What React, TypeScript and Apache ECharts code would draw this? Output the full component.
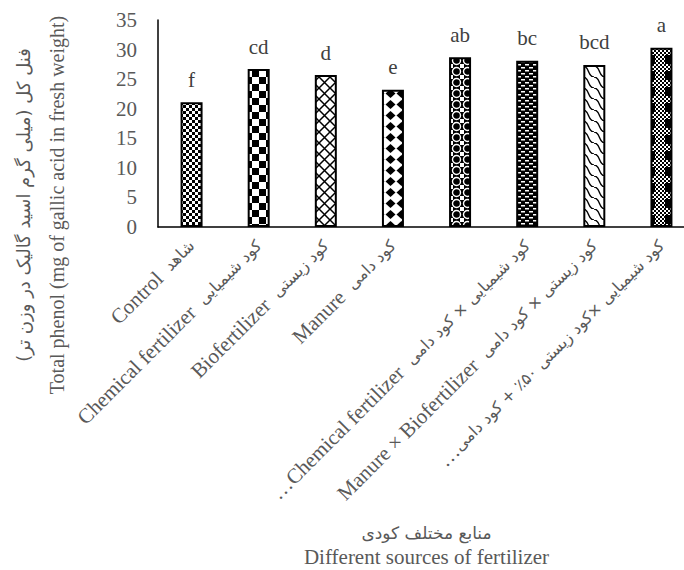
import React, { useEffect, useRef } from "react";
import * as echarts from "echarts";

const categories = [
  "Control  شاهد",
  "Chemical fertilizer  کود شیمیایی",
  "Biofertilizer  کود زیستی",
  "Manure  کود دامی",
  "Chemical fertilizer × Biofertilizer  کود شیمیایی × کود زیستی",
  "…Chemical fertilizer  کود شیمیایی × کود دامی",
  "Manure × Biofertilizer  کود زیستی × کود دامی",
  "…کود شیمیایی ×کود زیستی ۵۰٪ + کود دامی",
];
const hiddenLabelIndex = [4];
const values = [21.1, 26.7, 25.7, 23.2, 28.7, 28.1, 27.4, 30.3];
const letters = ["f", "cd", "d", "e", "ab", "bc", "bcd", "a"];
const yTitleFa = "فنل کل (میلی گرم اسید گالیک در وزن تر)\u200F";
const yTitleEn = "Total phenol (mg of gallic acid in fresh weight)";
const xTitleFa = "منابع مختلف کودی";
const xTitleEn = "Different sources of fertilizer";

type Draw = (ctx: CanvasRenderingContext2D, w: number, h: number) => void;

function makePattern(w: number, h: number, draw: Draw) {
  const c = document.createElement("canvas");
  c.width = w;
  c.height = h;
  const ctx = c.getContext("2d") as CanvasRenderingContext2D;
  ctx.fillStyle = "#fff";
  ctx.fillRect(0, 0, w, h);
  ctx.fillStyle = "#000";
  ctx.strokeStyle = "#000";
  draw(ctx, w, h);
  return {
    image: c.toDataURL(),
    repeat: "repeat",
    imageWidth: w,
    imageHeight: h,
  };
}

function checker(cell: number): Draw {
  return (ctx) => {
    ctx.fillRect(0, 0, cell, cell);
    ctx.fillRect(cell, cell, cell, cell);
  };
}

function buildPatterns() {
  return [
    makePattern(6, 6, checker(3)),
    makePattern(14, 14, checker(7)),
    makePattern(11, 11, (ctx) => {
      ctx.lineWidth = 1.5;
      ctx.beginPath();
      ctx.moveTo(-1, -1);
      ctx.lineTo(12, 12);
      ctx.moveTo(12, -1);
      ctx.lineTo(-1, 12);
      ctx.stroke();
    }),
    makePattern(11, 11, (ctx) => {
      ctx.beginPath();
      ctx.moveTo(5.5, 1);
      ctx.lineTo(10.5, 5.5);
      ctx.lineTo(5.5, 10);
      ctx.lineTo(0.5, 5.5);
      ctx.closePath();
      ctx.fill();
    }),
    makePattern(11, 11, (ctx) => {
      ctx.fillRect(0, 0, 11, 11);
      ctx.fillStyle = "#fff";
      ctx.fillRect(0, 0, 2, 2);
      ctx.fillRect(9, 0, 2, 2);
      ctx.fillRect(0, 9, 2, 2);
      ctx.fillRect(9, 9, 2, 2);
      ctx.strokeStyle = "#fff";
      ctx.lineWidth = 1.4;
      ctx.beginPath();
      ctx.arc(5.5, 5.5, 4, 0, Math.PI * 2);
      ctx.stroke();
    }),
    makePattern(8, 6, (ctx) => {
      ctx.fillRect(0, 0, 8, 6);
      ctx.fillStyle = "#fff";
      ctx.fillRect(1, 1, 4, 1.5);
      ctx.fillRect(5, 4, 3, 1.5);
      ctx.fillRect(0, 4, 1, 1.5);
    }),
    makePattern(11, 11, (ctx) => {
      ctx.lineWidth = 1.4;
      ctx.beginPath();
      ctx.moveTo(0, 0);
      ctx.bezierCurveTo(7, 0, 4, 11, 11, 11);
      ctx.stroke();
    }),
    makePattern(20, 16, (ctx) => {
      for (let y = 0; y < 16; y += 2) {
        for (let x = 0; x < 20; x += 2) {
          if (((x + y) / 2) % 2 === 0) ctx.fillRect(x, y, 2, 2);
        }
      }
      ctx.fillRect(5, 7, 10, 9);
    }),
  ];
}

const textColor = "#595959";
const font = "'Liberation Serif', 'Times New Roman', serif";
const faFont = "'DejaVu Sans', 'Noto Sans', sans-serif";

function splitLabel(s: string) {
  const idx = s.search(/[\u0600-\u06FF]/);
  if (idx < 0) return { en: s, fa: "" };
  return { en: s.slice(0, idx), fa: s.slice(idx) };
}

export default function App() {
  const ref = useRef<HTMLDivElement>(null);
  useEffect(() => {
    if (!ref.current) return;
    const chart = echarts.init(ref.current, undefined, { renderer: "svg" });
    const patterns = buildPatterns();
    chart.setOption({
      animation: false,
      backgroundColor: "#fff",
      textStyle: { fontFamily: font },
      grid: {
        left: 158,
        top: 20,
        width: 537,
        height: 207,
        containLabel: false,
        outerBoundsMode: "none",
      },
      graphic: [
        {
          type: "text",
          x: 23,
          y: 205,
          rotation: Math.PI / 2,
          style: {
            text: yTitleFa,
            fill: textColor,
            fontSize: 18,
            fontFamily: faFont,
            align: "center",
            verticalAlign: "middle",
          },
        },
        {
          type: "text",
          x: 57,
          y: 205,
          rotation: Math.PI / 2,
          style: {
            text: yTitleEn,
            fill: textColor,
            fontSize: 20,
            fontFamily: font,
            align: "center",
            verticalAlign: "middle",
          },
        },
      ],
      xAxis: {
        type: "category",
        data: categories,
        axisLine: { show: true, lineStyle: { color: "#000", width: 1.5 } },
        axisTick: { show: false },
        axisLabel: {
          rotate: 45,
          margin: 16,
          color: textColor,
          interval: (i: number) => hiddenLabelIndex.indexOf(i) < 0,
          formatter: (v: string) => {
            const p = splitLabel(v);
            return (p.en ? `{en|${p.en}}` : "") + (p.fa ? `{fa|${p.fa}}` : "");
          },
          rich: {
            en: { fontSize: 21, fontFamily: font, color: textColor },
            fa: { fontSize: 16, fontFamily: faFont, color: textColor },
          },
        },
        name: `{fa|${xTitleFa}}\n{en|${xTitleEn}}`,
        nameLocation: "middle",
        nameGap: 293,
        nameTextStyle: {
          color: textColor,
          verticalAlign: "top",
          rich: {
            fa: { fontSize: 17, fontFamily: faFont, lineHeight: 26, color: textColor },
            en: { fontSize: 21, fontFamily: font, lineHeight: 22, color: textColor },
          },
        },
      },
      yAxis: {
        type: "value",
        min: 0,
        max: 35,
        interval: 5,
        splitLine: { show: false },
        axisLine: { show: true, lineStyle: { color: "#000", width: 1.5 } },
        axisTick: { show: false },
        axisLabel: { color: textColor, fontSize: 21, margin: 21, fontFamily: font },
      },
      series: [
        {
          type: "bar",
          barWidth: 22,
          data: values.map((v, i) => ({
            value: v,
            itemStyle: { color: patterns[i] },
          })),
          itemStyle: { borderColor: "#000", borderWidth: 2 },
          label: {
            show: true,
            position: "top",
            distance: 12,
            color: "#404040",
            fontSize: 21,
            fontFamily: font,
            formatter: (p: any) => letters[p.dataIndex],
          },
        },
      ],
    });
    return () => chart.dispose();
  }, []);
  return (
    <div
      ref={ref}
      style={{ position: "absolute", left: 0, top: 0, width: 684, height: 570 }}
    />
  );
}
